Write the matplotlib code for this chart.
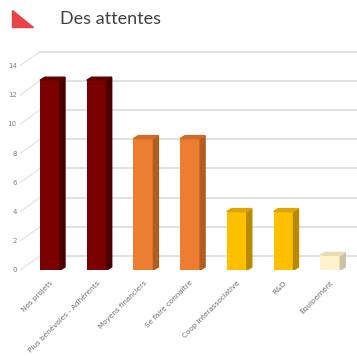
import matplotlib.pyplot as plt
from matplotlib.patches import Polygon

categories = ["Nos projets", "Plus bénévoles - Adhérents", "Moyens financiers",
              "Se faire connaître", "Coop interassociative", "R&D", "Equipement"]
values = [13, 13, 9, 9, 4, 4, 1]
front = ["#7b0000", "#7b0000", "#ed7d31", "#ed7d31", "#ffc000", "#ffc000", "#fff2cc"]
side = ["#4a0000", "#4a0000", "#b35c22", "#b35c22", "#b88a00", "#b88a00", "#c9c2a6"]
top = ["#5e0000", "#5e0000", "#d06a28", "#d06a28", "#dca500", "#dca500", "#e6dcb8"]
yticks = [0, 2, 4, 6, 8, 10, 12, 14]

W, H = 357, 356
fig = plt.figure(figsize=(W / 100, H / 100), dpi=100)
fig.patch.set_facecolor("white")

# front plane: y=0 at 270px from top, 14.6 px per unit; categories every 46.7 px from x=50
left_px, right_px = 18, 357
bottom_px = 270
unit = 14.6
step = 46.7
ymax = 15
ax = fig.add_axes([left_px / W, (H - bottom_px) / H, (right_px - left_px) / W, ymax * unit / H])
ax.set_xlim((left_px - 50) / step, (right_px - 50) / step)
ax.set_ylim(0, ymax)
for s in ax.spines.values():
    s.set_visible(False)

# back wall gridlines with slanted connectors
gx0 = ax.get_xlim()[0]
bdx, bdy = 22 / step, 14 / unit
for v in yticks:
    ax.plot([gx0 + bdx, ax.get_xlim()[1]], [v + bdy, v + bdy], color="#d9d9d9", lw=1.1, zorder=0, clip_on=False)
    ax.plot([gx0 + 0.05, gx0 + bdx], [v, v + bdy], color="#e0e0e0", lw=0.8, zorder=0, clip_on=False)

bw = 20 / step
dx, dy = 5 / step, 3 / unit
x = list(range(len(categories)))
ax.bar(x, values, width=bw, color=front, zorder=3)
for xi, v, sc, tc in zip(x, values, side, top):
    r, l = xi + bw / 2, xi - bw / 2
    ax.add_patch(Polygon([(r, 0), (r + dx, dy), (r + dx, v + dy), (r, v)], closed=True, color=sc, zorder=3))
    ax.add_patch(Polygon([(l, v), (r, v), (r + dx, v + dy), (l + dx, v + dy)], closed=True, color=tc, zorder=3))

ax.set_yticks(yticks)
ax.set_yticklabels([str(t) for t in yticks], fontsize=5, color="#7f7f7f")
ax.tick_params(axis="y", length=0, pad=1)
ax.set_xticks(x)
ax.set_xticklabels(categories, fontsize=5.2, color="#6f6f6f", rotation=45, ha="right", rotation_mode="anchor")
ax.tick_params(axis="x", length=0, pad=7)

# title with red triangle marker
fig.patches.append(Polygon([(12 / W, 1 - 10 / H), (12 / W, 1 - 27 / H), (33 / W, 1 - 27 / H)],
                           closed=True, color="#e8434b", transform=fig.transFigure, figure=fig))
fig.text(60 / W, 1 - 19 / H, "Des attentes", fontsize=13, color="#404040", va="center", ha="left",
         family=["Lato", "DejaVu Sans"])

fig.savefig("out.png", dpi=100)
